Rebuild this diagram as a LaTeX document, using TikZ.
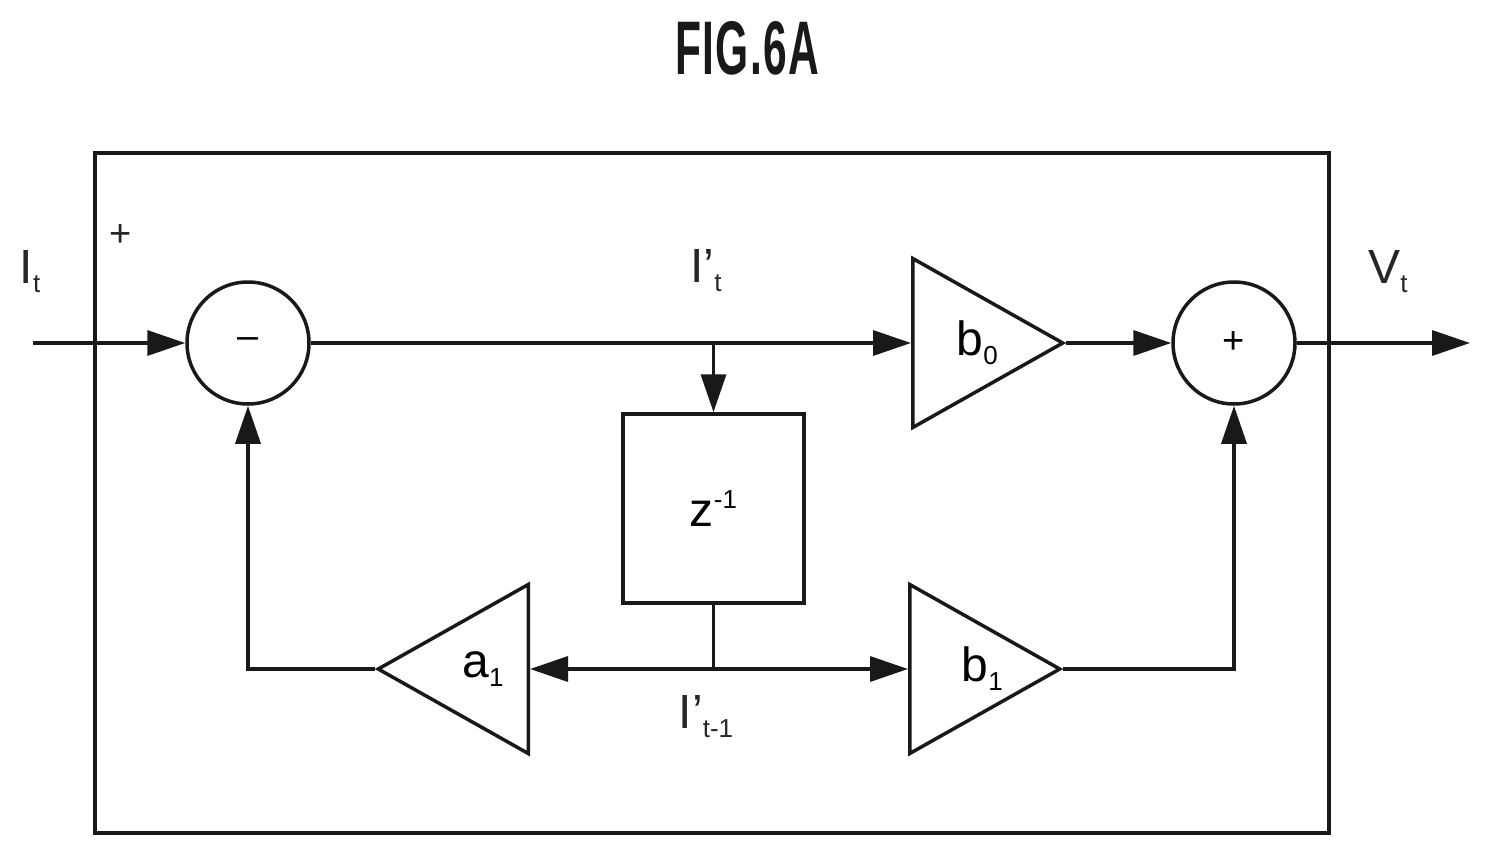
\documentclass[tikz,border=0pt]{standalone}
\usepackage{fontspec}
\setmainfont{Liberation Sans}
\usetikzlibrary{arrows.meta,shapes.geometric}
\newcommand{\lbl}{\fontsize{48}{48}\selectfont}
\newcommand{\sml}{\fontsize{38}{38}\selectfont}
\newcommand{\sbx}[1]{\raisebox{-9pt}{\fontsize{26}{26}\selectfont #1}}
\newcommand{\spx}[1]{\raisebox{18pt}{\fontsize{26}{26}\selectfont #1}}
\newcommand{\nudge}[2]{\makebox[0pt]{\hspace*{#1}#2}}
\tikzset{
  wire/.style={line width=3.5pt,draw=black!90},
  flow/.style={wire,-{Triangle[length=38pt,width=25pt]}},
  sumnode/.style={wire,circle,minimum size=122pt,inner sep=0pt,font=\sml},
  gain/.style={wire,isosceles triangle,isosceles triangle apex angle=58.8,
    isosceles triangle stretches,minimum height=150pt,minimum width=169pt,inner sep=0pt,font=\lbl},
  delaybox/.style={wire,rectangle,minimum width=181pt,minimum height=189pt,inner sep=0pt,font=\lbl},
  sig/.style={font=\lbl,text=black!85,inner sep=0pt}
}
\begin{document}
\begin{tikzpicture}[x=1pt,y=-1pt]
    \useasboundingbox (0,0) rectangle (1491,856);

    % Titulo
    \node[xscale=0.56,inner sep=0pt,text=black!90] (title) at (747,48) {\fontsize{76}{76}\selectfont\bfseries\addfontfeature{LetterSpace=3}FIG.6A};

    % Marco exterior
    \node[wire,rectangle,minimum width=1234pt,minimum height=680pt,inner sep=0pt] (frame) at (712,493) {};

    % Sumadores
    \node[sumnode] (sub) at (248,343) {--};
    \node[sumnode] (add) at (1234,343) {+};

    % Amplificadores
    \node[gain,anchor=lower side] (b0) at (911,343) {\nudge{56pt}{b\sbx{0}}};
    \node[gain,anchor=lower side] (b1) at (908,669) {\nudge{72pt}{b\sbx{1}}};
    \node[gain,anchor=lower side,shape border rotate=180] (a1) at (530,669) {\nudge{-12pt}{a\sbx{1}}};

    % Retardo
    \node[delaybox] (delay) at (713.5,508.5) {z\spx{-1}};

    % Puntos libres
    \coordinate (in) at (33,343);
    \coordinate (out) at (1470,343);
    \coordinate (tap) at (713.5,343);
    \coordinate (split) at (713.5,669);

    % Rama superior
    \draw[flow] (in) -- (sub.west);
    \draw[flow] (sub.east) -- (b0.lower side);
    \draw[flow] (b0.apex) -- (add.west);
    \draw[flow] (add.east) -- (out);
    \draw[flow] (tap) -- (delay.north);

    % Rama inferior
    \draw[wire] (delay.south) -- (split);
    \draw[flow] (split) -- (a1.lower side);
    \draw[flow] (split) -- (b1.lower side);
    \draw[flow] (a1.apex) -| (sub.south);
    \draw[flow] (b1.apex) -| (add.south);

    % Etiquetas
    \node[sig] (lit) at (30,272) {I\sbx{t}};
    \node[sig,font=\sml] (lplus) at (121,236) {+};
    \node[sig] (lip) at (706,271) {I'\sbx{t}};
    \node[sig] (lipm) at (706,717) {I'\sbx{t-1}};
    \node[sig] (lvt) at (1388,272) {V\sbx{t}};
  \end{tikzpicture}
\end{document}
